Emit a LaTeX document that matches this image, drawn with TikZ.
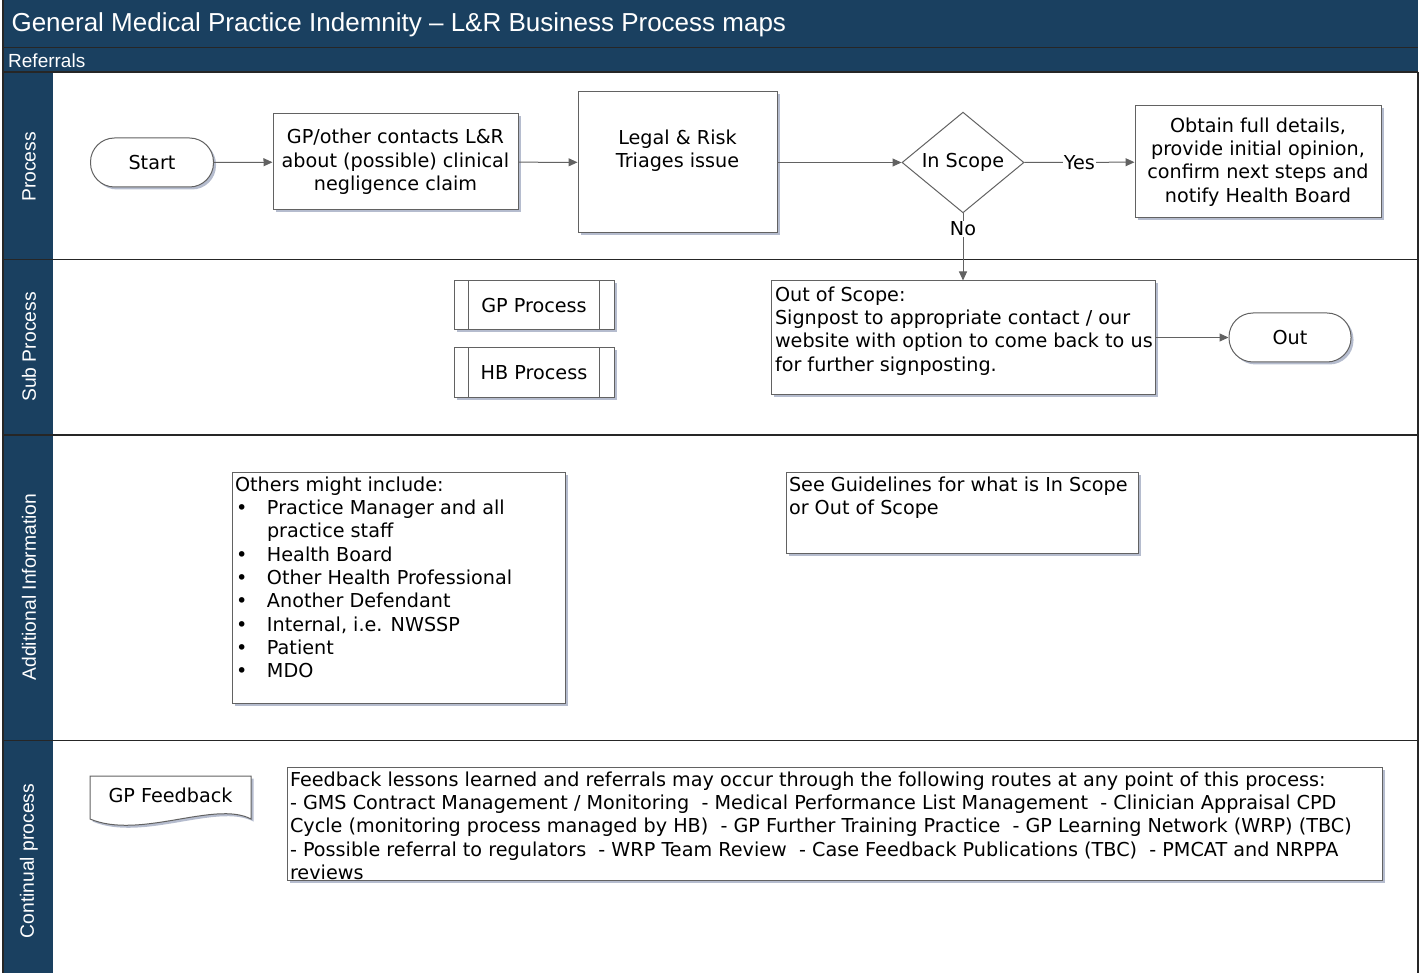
\documentclass[tikz,border=0pt]{standalone}
\usepackage{fontspec}
\setmainfont{DejaVu Sans}
\newfontfamily\headfont{Liberation Sans}
\usetikzlibrary{shapes.geometric,shadows,arrows.meta,positioning}
\definecolor{navy}{RGB}{26,64,96}
\definecolor{edgegray}{RGB}{98,98,98}
\definecolor{shadowblue}{RGB}{150,160,185}
\newcommand{\bul}{\makebox[32pt][l]{\hspace{1pt}\textbullet}}
\newcommand{\topbox}[3]{\parbox[c][#2][t]{#1}{\begin{tabular}{@{}l@{}}#3\end{tabular}}}
\begin{document}
\begin{tikzpicture}[x=1pt, y=-1pt, >={Triangle[length=9pt,width=8pt]},
  every node/.style={font=\fontsize{19.2}{23.3}\selectfont},
  shadowed/.style={drop shadow={shadow xshift=2.5pt, shadow yshift=-2.5pt, fill=shadowblue, opacity=.7}},
  procbox/.style={draw=edgegray, fill=white, line width=1pt, shadowed, align=center, inner sep=2pt},
  termbox/.style={procbox, rounded corners=24pt, minimum height=49pt},
  subbox/.style={procbox, shadowed/.style={}, minimum width=160pt, minimum height=49pt},
  notebox/.style={procbox, inner sep=3pt, align=left},
  flow/.style={->, draw=edgegray, line width=1pt},
  lanetext/.style={text=white, font=\headfont\fontsize{19.3}{23}\selectfont, rotate=90},
  laneline/.style={draw=black!85, line width=1.6pt}]
\useasboundingbox (0,0) rectangle (1424,973);
% header and lanes
\fill[navy] (3,0) rectangle (1418,72);
\fill[navy] (3,72) rectangle (53,973);
\draw[laneline] (3,47.5) -- (1418,47.5);
\draw[laneline] (3,72) -- (1418,72);
\draw[laneline] (3,0) -- (3,973);
\draw[laneline] (1418,72) -- (1418,973);
\foreach \y in {259.5,435,740.5}
  \draw[laneline] (3,\y) -- (1418,\y);
\node[anchor=west, text=white, font=\headfont\fontsize{26}{30}\selectfont] (title) at (8,25) {General Medical Practice Indemnity – L\&R Business Process maps};
\node[anchor=west, text=white, font=\headfont\fontsize{19}{22}\selectfont, inner sep=0pt] (referrals) at (8,61) {Referrals};
\node[lanetext] (lproc) at (29,167) {Process};
\node[lanetext] (lsub) at (29,347) {Sub Process};
\node[lanetext] (ladd) at (29,587) {Additional Information};
\node[lanetext] (lcont) at (29,861) {Continual process};
% process lane
\node[termbox, minimum width=123pt] (start) at (152,162.5) {Start};
\node[procbox, minimum width=245pt, minimum height=96pt] (contact) at (395.5,162) {GP/other contacts L\&R\\about (possible) clinical\\negligence claim};
\node[procbox, minimum width=199pt, minimum height=141pt,
  label={[align=center, yshift=12pt]center:Legal \& Risk\\Triages issue}] (triage) at (677.5,162.5) {};
\node[diamond, draw=edgegray, fill=white, line width=1pt, inner sep=0pt, minimum width=122pt, minimum height=99pt] (scope) at (963,162.5) {In Scope};
\node[procbox, minimum width=246pt, minimum height=112pt] (obtain) at (1258,162) {Obtain full details,\\provide initial opinion,\\confirm next steps and\\notify Health Board};
% sub process lane
\node[subbox] (gpproc) at (534,305.5) {GP Process};
\node[subbox] (hbproc) at (534,372.5) {HB Process};
\foreach \n in {gpproc,hbproc} {
  \draw[edgegray, line width=1pt] ([xshift=15pt]\n.north west) -- ([xshift=15pt]\n.south west);
  \draw[edgegray, line width=1pt] ([xshift=-15pt]\n.north east) -- ([xshift=-15pt]\n.south east);
}
\node[notebox, inner sep=4pt] (oos) at (963,337.5) {\topbox{376pt}{105pt}{Out of Scope:\\Signpost to appropriate contact / our\\website with option to come back to us\\for further signposting.}};
\node[termbox, minimum width=122pt] (out) at (1290,337.5) {Out};
% additional information lane
\node[notebox] (others) at (398.5,587.5) {\topbox{327pt}{225pt}{Others might include:\\
\bul Practice Manager and all\\
\hspace*{32pt}practice staff\\
\bul Health Board\\
\bul Other Health Professional\\
\bul Another Defendant\\
\bul Internal, i.e. NWSSP\\
\bul Patient\\
\bul MDO}};
\node[notebox] (guide) at (962,512.5) {\topbox{346pt}{75pt}{See Guidelines for what is In Scope\\or Out of Scope}};
% continual process lane
\draw[draw=edgegray, fill=white, line width=1pt, shadowed] (90,776) -- (251,776) -- (251,819)
  .. controls (215,800) and (140,840) .. (90,819) -- cycle;
\node (gpfb) at (170.5,795) {GP Feedback};
\node[notebox] (fback) at (834.5,823.5) {\topbox{1089pt}{107pt}{Feedback lessons learned and referrals may occur through the following routes at any point of this process:\\
- GMS Contract Management / Monitoring\ \ - Medical Performance List Management\ \ - Clinician Appraisal CPD\\
Cycle (monitoring process managed by HB)\ \ - GP Further Training Practice\ \ - GP Learning Network (WRP) (TBC)\\
- Possible referral to regulators\ \ - WRP Team Review\ \ - Case Feedback Publications (TBC)\ \ - PMCAT and NRPPA\\
reviews}};
% connectors
\draw[flow] (start) -- (contact);
\draw[flow] (contact) -- (triage);
\draw[flow] (triage) -- (scope);
\draw[flow] (scope) -- (obtain) node[midway, fill=white, inner sep=1pt] {Yes};
\draw[flow] (scope) -- (oos) node[pos=0.23, fill=white, inner sep=1pt] {No};
\draw[flow] (oos.east |- out) -- (out);
\end{tikzpicture}
\end{document}
